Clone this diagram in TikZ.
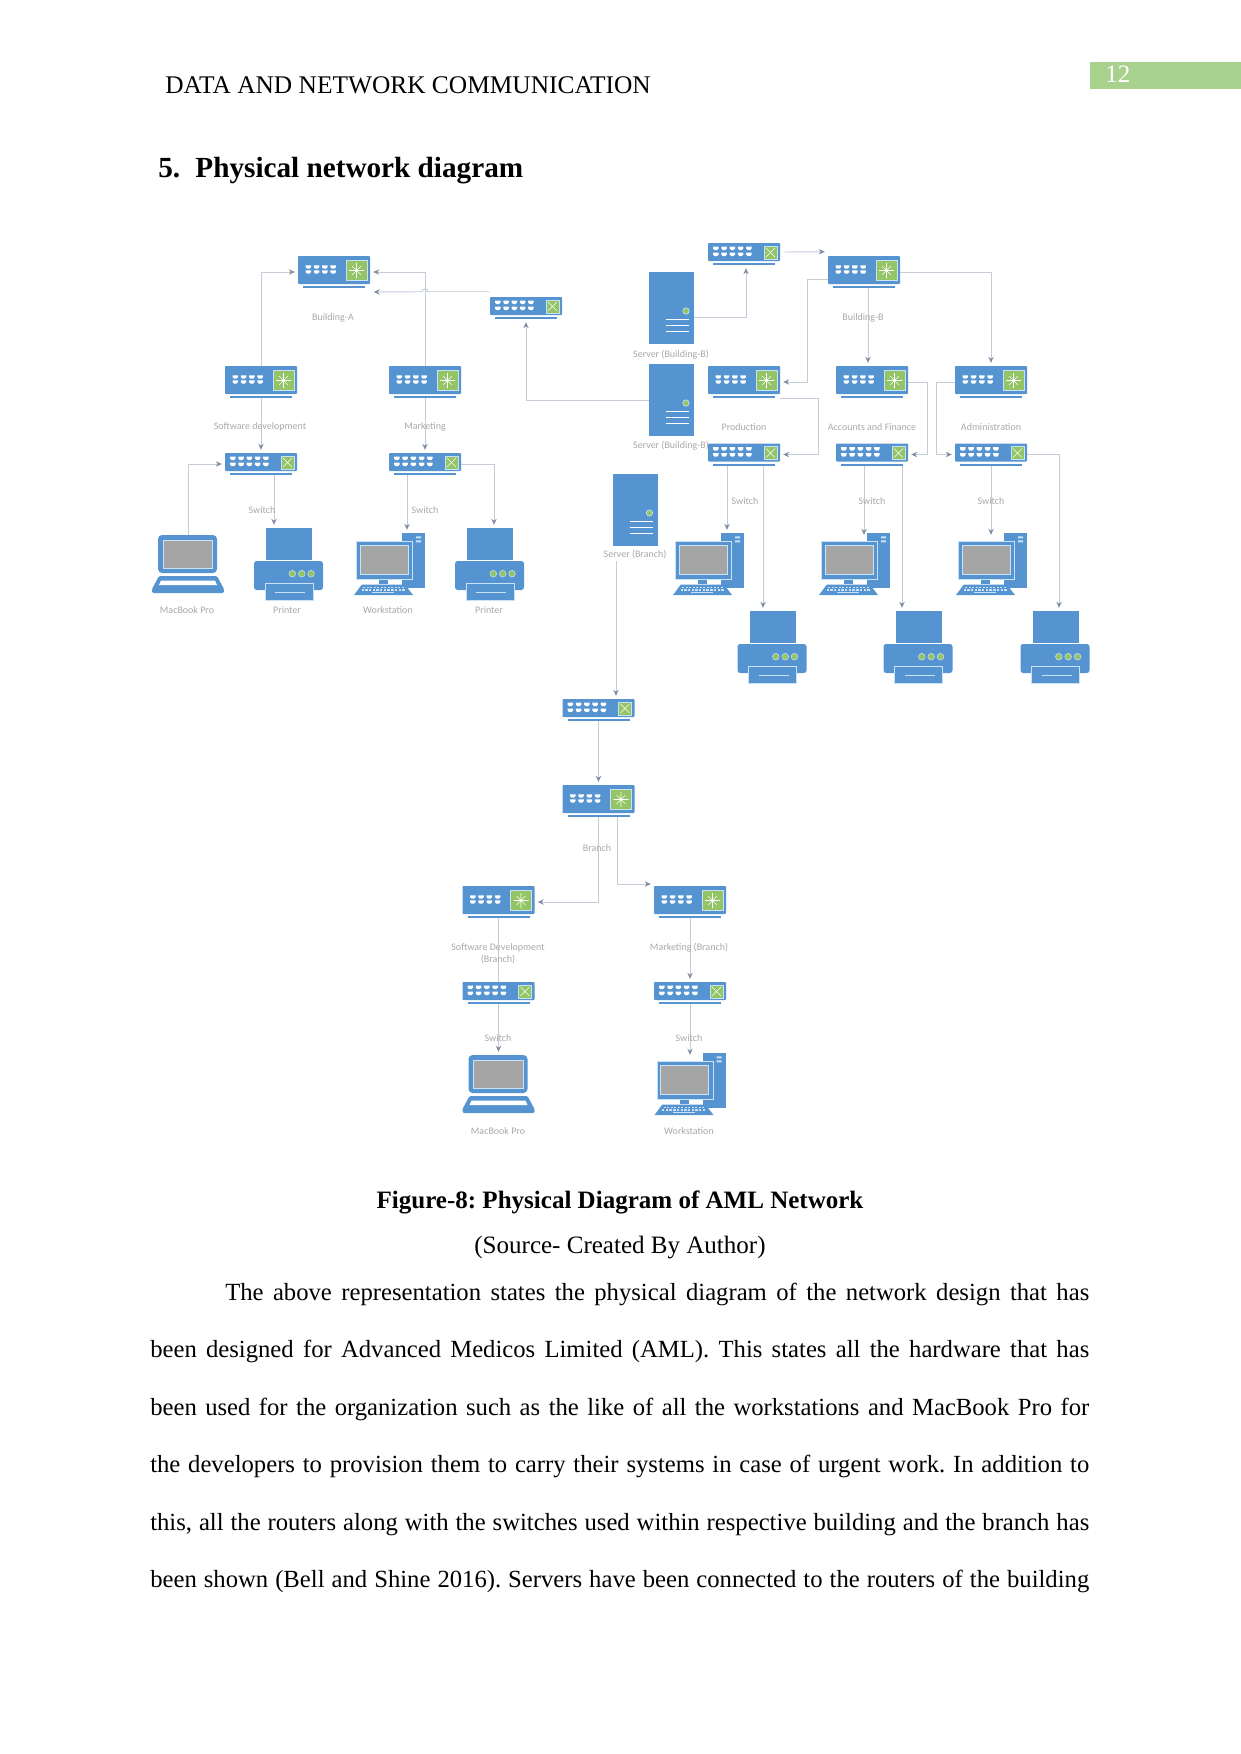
\documentclass[tikz,border=0pt]{standalone}
\usepackage{fontspec}
\setmainfont{Liberation Serif}
\newfontfamily\labfont{Carlito}
\usetikzlibrary{arrows.meta}
\definecolor{iconblue}{HTML}{5594D0}
\definecolor{icongreen}{HTML}{93C466}
\definecolor{iconedge}{HTML}{C9E2F5}
\definecolor{screengrey}{HTML}{A5A5A5}
\definecolor{connline}{HTML}{C3CCD7}
\definecolor{conntip}{HTML}{7F8C9F}
\definecolor{labgrey}{HTML}{A8A8A8}
\definecolor{pagegreen}{HTML}{A9D18E}
\def\u{0.75pt}
\newcommand{\fs}[1]{\fontsize{#1}{#1}\selectfont}
\tikzset{
  conn/.style={draw=connline,line width=0.7pt},
  arr/.style={conn,-{Stealth[length=4.5pt,width=4pt,color=conntip]},shorten >=2.2pt},
  lab/.style={font=\labfont\fs{7.5},text=labgrey,inner sep=0,align=center},
  routerbox/.style={minimum width=54pt,minimum height=24pt,inner sep=0},
  switchbox/.style={minimum width=54pt,minimum height=16.5pt,inner sep=0},
  serverbox/.style={minimum width=34pt,minimum height=54pt,inner sep=0},
  printerbox/.style={minimum width=51.75pt,minimum height=54pt,inner sep=0},
  laptopbox/.style={minimum width=54pt,minimum height=43.5pt,inner sep=0},
  wsbox/.style={minimum width=53.25pt,minimum height=46.5pt,inner sep=0},
  body/.style={inner sep=0,font=\frenchspacing\fs{18.77}},
  para/.style={inner sep=0,font=\frenchspacing\fs{18.5},anchor=base west},
  router icon/.pic={
    \begin{scope}[shift={(-36,-16)}]
      \fill[iconblue,rounded corners=0.7pt] (0,0) rectangle (72,28);
      \fill[iconblue] (5,30) rectangle (67,32);
      \foreach \i in {0,1,2,3}\foreach \j in {0,1}{
        \fill[white] (7.5+\i*8.3,9.3+\j*5) -- ++(5.5,0) -- ++(0,1.8) -- ++(-1.5,1.6) -- ++(-2.5,0) -- ++(-1.5,-1.6) -- cycle;}
      \fill[icongreen,draw=iconedge,line width=0.6pt] (48,4.5) rectangle (69,24.5);
      \draw[white,line width=0.5pt] (58.5,7) -- (58.5,22) (51,14.5) -- (66,14.5) (54,10) -- (63,19) (54,19) -- (63,10);
    \end{scope}},
  switch icon/.pic={
    \begin{scope}[shift={(-36,-11)}]
      \fill[iconblue,rounded corners=0.7pt] (0,0) rectangle (72,18);
      \fill[iconblue] (5,20) rectangle (67,22);
      \foreach \i in {0,1,2,3,4}\foreach \j in {0,1}{
        \fill[white] (5+\i*8.3,3.7+\j*6) -- ++(5.5,0) -- ++(0,1.8) -- ++(-1.5,1.6) -- ++(-2.5,0) -- ++(-1.5,-1.6) -- cycle;}
      \fill[icongreen,draw=iconedge,line width=0.6pt] (56,3) rectangle (69,16);
      \draw[white,line width=0.5pt] (58,5) -- (67,14) (58,14) -- (67,5);
    \end{scope}},
  server icon/.pic={
    \begin{scope}[shift={(-22.5,-36)}]
      \fill[iconblue] (0,0) rectangle (45,72);
      \fill[icongreen,draw=iconedge,line width=0.5pt] (37,39) circle[radius=2.4pt];
      \draw[white,line width=1pt] (17,47.7) -- (40,47.7) (17,53.7) -- (40,53.7) (17,59.3) -- (40,59.3);
    \end{scope}},
  printer icon/.pic={
    \begin{scope}[shift={(-34.5,-36)}]
      \fill[iconblue] (12,0) rectangle (58,32);
      \fill[iconblue,rounded corners=2pt] (0,33) rectangle (69,62);
      \foreach \i in {38.3,47.7,57}{\fill[icongreen,draw=iconedge,line width=0.4pt] (\i,45.7) circle[radius=2.5pt];}
      \fill[iconblue,draw=iconedge,line width=0.6pt] (11,55) rectangle (59,72);
      \draw[iconedge,line width=0.7pt] (21,64) -- (51,64);
    \end{scope}},
  laptop icon/.pic={
    \begin{scope}[shift={(-36,-29)}]
      \fill[iconblue,rounded corners=3pt] (6,0) -- (65,0) -- (65,38) -- (6,38) -- cycle;
      \fill[screengrey,draw=iconedge,line width=0.7pt] (11,5.7) rectangle (60.5,33);
      \fill[iconblue,rounded corners=1pt] (7,41) -- (65,41) -- (72,54) -- (72,58) -- (0,58) -- (0,54) -- cycle;
      \fill[white] (9,45.5) -- (63,45.5) -- (65,50) -- (7,50) -- cycle;
    \end{scope}},
  ws icon/.pic={
    \begin{scope}[shift={(-35.5,-31)}]
      \fill[iconblue] (48,0) rectangle (71,55);
      \fill[iconedge] (62,3.3) rectangle (67,5.3) (62,7.3) rectangle (67,9.3);
      \fill[iconblue,draw=iconedge,line width=0.7pt] (2.7,8) rectangle (58.7,46.7);
      \fill[screengrey,draw=iconedge,line width=0.5pt] (6,12.3) rectangle (54.3,41.7);
      \fill[iconblue] (25,47) rectangle (34,50.7);
      \fill[iconblue] (7.7,51.7) -- (51,51.7) -- (59,62) -- (0,62) -- cycle;
      \foreach \i in {0,...,11}{
        \fill[iconedge] (9+\i*3.5,53.6) rectangle ++(2.2,1.4);
        \fill[iconedge] (7.5+\i*3.7,56.3) rectangle ++(2.4,1.4);}
      \fill[iconedge] (18,59) rectangle (40,60.3);
    \end{scope}}
}
\newcommand{\iconat}[5]{% style, pic, name, x, y
  \node[#1] (#3) at (#4,#5) {};
  \pic at (#3) {#2};}
\newcommand{\router}[3]{\iconat{routerbox}{router icon}{#1}{#2}{#3}}
\newcommand{\switchunit}[3]{\iconat{switchbox}{switch icon}{#1}{#2}{#3}}
\newcommand{\serverunit}[3]{\iconat{serverbox}{server icon}{#1}{#2}{#3}}
\newcommand{\printerunit}[3]{\iconat{printerbox}{printer icon}{#1}{#2}{#3}}
\newcommand{\laptopunit}[3]{\iconat{laptopbox}{laptop icon}{#1}{#2}{#3}}
\newcommand{\wsunit}[3]{\iconat{wsbox}{ws icon}{#1}{#2}{#3}}
\begin{document}
\begin{tikzpicture}[x=0.75pt,y=-0.75pt]
\useasboundingbox (0,0) rectangle (1241,1754);
% page furniture
\node[fill=pagegreen,minimum width=113.25pt,minimum height=20.5pt,inner sep=0] (pagebar) at (1165.5,75.2) {};
\node[body,text=white,anchor=base west] (pagenum) at (1105,82.5) {12};
\node[inner sep=0,font=\fs{19.05},anchor=base west] (header) at (165,93) {DATA AND NETWORK COMMUNICATION};
\node[inner sep=0,anchor=base west,font=\bfseries\fs{21.9}] (heading) at (158,177) {5.\hspace{11.5pt}Physical network diagram};
\node[lab] (l12) at (671,446) {Server (Building-B)};
% building A
\router{RA}{334}{272}
\switchunit{SREL}{526}{308}
\router{RSD}{261}{382}
\router{RMK}{425}{382}
\switchunit{SSD}{261}{464}
\switchunit{SMK}{425}{464}
\laptopunit{LAP}{188}{564}
\printerunit{PA}{288.5}{564}
\wsunit{WSA}{389.5}{564}
\printerunit{PB}{489.5}{564}
% building B
\switchunit{SBT}{744}{254}
\router{RB}{864}{272}
\serverunit{SVA}{671.5}{308}
\serverunit{SVC}{671.5}{400}
\serverunit{SVB}{635}{510}
\router{RPR}{744}{382}
\router{RAF}{872}{382}
\router{RAD}{991}{382}
\switchunit{SPR}{744}{454.5}
\switchunit{SAF}{872}{454.5}
\switchunit{SAD}{991}{454.5}
\wsunit{WSPR}{708.5}{564}
\wsunit{WSAF}{854.5}{564}
\wsunit{WSAD}{991.5}{564}
\printerunit{PPR}{772}{647}
\printerunit{PAF}{918}{647}
\printerunit{PAD}{1055}{647}
% branch
\switchunit{SBR}{598.5}{710}
\router{RBR}{598.5}{801}
\router{RSDB}{498.5}{902}
\router{RMKB}{690}{902}
\switchunit{SSDB}{498.5}{993}
\switchunit{SMKB}{690}{993}
\laptopunit{LAPB}{498.5}{1084}
\wsunit{WSB}{690}{1084}
% connectors building A
\draw[arr] (RSD.north) |- (RA.west);
\draw[arr] (RMK.north) |- (RA.east);
\coordinate (relstart) at ([yshift=5*\u]SREL.north west);
\coordinate (relend) at ([yshift=-20*\u,xshift=0.5*\u]RA.east);
\draw[arr] (relstart) -- (relstart -| RMK.north) ++(3,0) arc[start angle=0,end angle=180,radius=2.2pt] -- (relend);
\draw[arr] (SVC.west) -| (SREL.south);
\draw[arr] (RSD.south) -- (SSD.north);
\draw[arr] (RMK.south) -- (SMK.north);
\draw[arr] (LAP.north) |- (SSD.west);
\draw[arr] ([xshift=13*\u]SSD.south) -- ([xshift=-14.5*\u]PA.north);
\draw[arr] ([xshift=-18*\u]SMK.south) -- ([xshift=17.5*\u]WSA.north);
\draw[arr] (SMK.east) -| ([xshift=4.5*\u]PB.north);
% connectors building B
\draw[arr] ([yshift=-9*\u]SVA.east) -| ([xshift=2*\u]SBT.south);
\draw[arr] ([xshift=3*\u,yshift=2*\u]SBT.east) -- ([yshift=4*\u]RB.north west);
\draw[arr] ([yshift=-7*\u]RB.west) -- ++(-20,0) |- (RPR.east);
\draw[arr] (RB.east) -| (RAD.north);
\draw[arr] ([xshift=4*\u]RB.south) -- ([xshift=-4*\u]RAF.north);
\draw[arr] (RPR.south east) -- ++(38,0) |- (SPR.east);
\draw[arr] (RAF.east) -- ++(19,0) |- (SAF.east);
\draw[arr] (RAD.west) -- ++(-18,0) |- (SAD.west);
\draw[arr] ([xshift=-17*\u]SPR.south) -- ([xshift=18.5*\u]WSPR.north);
\draw[arr] ([xshift=19*\u]SPR.south) -- ([xshift=-9*\u]PPR.north);
\draw[arr] ([xshift=-8*\u]SAF.south) -- ([xshift=9.5*\u,yshift=-5*\u]WSAF.north);
\draw[arr] ([xshift=30*\u]SAF.south) -- ([xshift=-16*\u]PAF.north);
\draw[arr] (SAD.south) -- ([xshift=-0.5*\u,yshift=-5*\u]WSAD.north);
\draw[arr] (SAD.east) -| ([xshift=4*\u]PAD.north);
% connectors branch
\draw[arr] ([xshift=-19*\u,yshift=-15*\u]SVB.south) -- ([xshift=17.5*\u]SBR.north);
\draw[arr] (SBR.south) -- (RBR.north);
\draw[arr] (RBR.south) |- (RSDB.east);
\draw[arr] ([xshift=18.5*\u]RBR.south) |- ([yshift=18*\u]RMKB.west);
\draw[conn] (RSDB.south) -- (SSDB.north);
\draw[arr] (RMKB.south) -- (SMKB.north);
\draw[arr] (SSDB.south) -- (LAPB.north);
\draw[arr] (SMKB.south) -- ([yshift=-5*\u]WSB.north);
% labels
\node[lab] (l1) at (333,318) {Building-A};
\node[lab] (l2) at (260,427) {Software development};
\node[lab] (l3) at (425,427) {Marketing};
\node[lab] (l4) at (262,510) {Switch};
\node[lab] (l5) at (425,510) {Switch};
\node[lab] (l6) at (187,610) {MacBook Pro};
\node[lab] (l7) at (287,610) {Printer};
\node[lab] (l8) at (388,610) {Workstation};
\node[lab] (l9) at (489,610) {Printer};
\node[lab] (l10) at (863,318) {Building-B};
\node[lab] (l11) at (671,355) {Server (Building-B)};
\node[lab] (l13) at (744,427) {Production};
\node[lab] (l14) at (872,427) {Accounts and Finance};
\node[lab] (l15) at (991,427) {Administration};
\node[lab] (l16) at (745,501) {Switch};
\node[lab] (l17) at (872,501) {Switch};
\node[lab] (l18) at (991,501) {Switch};
\node[lab] (l19) at (635,555) {Server (Branch)};
\node[lab] (l20) at (597,848) {Branch};
\node[lab] (l21) at (498,948) {Software Development};
\node[lab] (l22) at (498,959.5) {(Branch)};
\node[lab] (l23) at (689,948) {Marketing (Branch)};
\node[lab] (l24) at (498,1038) {Switch};
\node[lab] (l25) at (689,1038) {Switch};
\node[lab] (l26) at (498,1131) {MacBook Pro};
\node[lab] (l27) at (689,1131) {Workstation};
% caption
\node[body,anchor=base,font=\bfseries\frenchspacing\fs{18.77}] (cap) at (620,1208.5) {Figure-8: Physical Diagram of AML Network};
\node[body,anchor=base] (src) at (620,1253) {(Source- Created By Author)};
% paragraph
\node[para] (p1) at (225,1300.5) {\hbox to 648pt{The above representation states the physical diagram of the network design that has}};
\node[para] (p2) at (150,1357.5) {\hbox to 704.25pt{been designed for Advanced Medicos Limited (AML). This states all the hardware that has}};
\node[para] (p3) at (150,1415.5) {\hbox to 704.25pt{been used for the organization such as the like of all the workstations and MacBook Pro for}};
\node[para] (p4) at (150,1472.5) {\hbox to 704.25pt{the developers to provision them to carry their systems in case of urgent work. In addition to}};
\node[para] (p5) at (150,1530.5) {\hbox to 704.25pt{this, all the routers along with the switches used within respective building and the branch has}};
\node[para] (p6) at (150,1587.5) {\hbox to 704.25pt{been shown (Bell and Shine 2016). Servers have been connected to the routers of the building}};
\end{tikzpicture}
\end{document}
